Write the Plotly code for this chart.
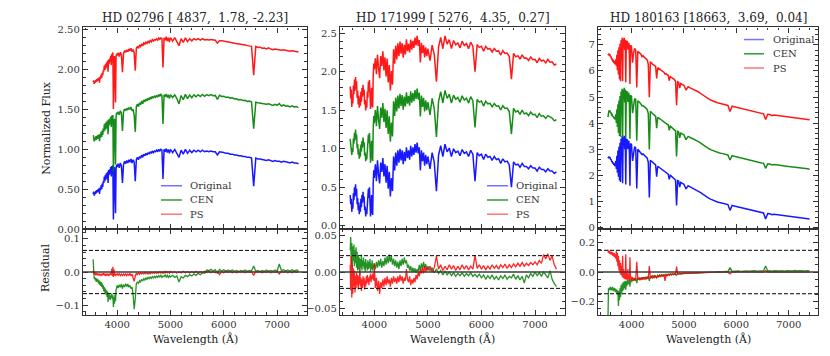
import plotly.graph_objects as go

# wavelength grid in Angstrom (denser in the line-rich blue part)
wave = list(range(3550, 4000, 10)) + list(range(4000, 5000, 20)) + list(range(5000, 7401, 40))

# ---------------- HD 02796 ----------------
flux_02796 = [
    0.44, 0.47, 0.42, 0.46, 0.44, 0.48, 0.45, 0.49, 0.46, 0.50,
    0.47, 0.51, 0.44, 0.52, 0.49, 0.55, 0.50, 0.57, 0.53, 0.60,
    0.58, 0.66, 0.60, 0.68, 0.62, 0.70, 0.64, 0.72, 0.58, 0.74,
    0.68, 0.75, 0.70, 0.78, 0.66, 0.79, 0.74, 0.80, 0.12, 0.62,
    0.78, 0.48, 0.20, 0.76, 0.81,
    0.78, 0.82, 0.77, 0.83, 0.79, 0.58, 0.81, 0.85, 0.82, 0.86,
    0.83, 0.87, 0.84, 0.88, 0.83, 0.87, 0.84, 0.60, 0.87, 0.90,
    0.87, 0.91, 0.89, 0.93, 0.90, 0.94, 0.92, 0.95, 0.93, 0.96,
    0.94, 0.97, 0.95, 0.98, 0.96, 0.98, 0.97, 0.99, 0.97, 1.00,
    0.98, 1.00, 0.99, 0.63, 1.00, 0.97, 1.01, 0.96, 1.00, 0.95,
    1.00, 0.96, 1.00, 0.95, 0.90, 0.99, 0.94, 1.00, 0.95, 0.99,
    0.96, 0.99, 0.97, 0.99, 0.97, 0.99, 0.97, 0.98, 0.97, 0.98,
    0.97, 0.97, 0.93, 0.97, 0.96, 0.96, 0.95, 0.95, 0.94, 0.94,
    0.93, 0.93, 0.92, 0.92, 0.91, 0.91, 0.90, 0.90, 0.89, 0.54,
    0.89, 0.88, 0.88, 0.87, 0.87, 0.86, 0.87, 0.86, 0.85, 0.86,
    0.85, 0.85, 0.84, 0.85, 0.84, 0.84, 0.83, 0.84, 0.83, 0.83,
    0.82,
]
cen_02796 = [
    0.038, -0.012, -0.020, -0.015, -0.025, -0.018, -0.030, -0.020, -0.028, -0.022,
    -0.035, -0.025, -0.038, -0.028, -0.042, -0.030, -0.045, -0.035, -0.050, -0.040,
    -0.058, -0.045, -0.062, -0.050, -0.068, -0.055, -0.075, -0.058, -0.090, -0.065,
    -0.080, -0.068, -0.085, -0.070, -0.078, -0.065, -0.082, -0.070, -0.105, -0.075,
    -0.095, -0.068, -0.088, -0.055, -0.048,
    -0.040, -0.048, -0.038, -0.046, -0.036, -0.050, -0.038, -0.045, -0.035, -0.044,
    -0.036, -0.046, -0.040, -0.050, -0.045, -0.070, -0.112, -0.080, -0.035, -0.030,
    -0.034, -0.026, -0.030, -0.022, -0.027, -0.020, -0.024, -0.018, -0.022, -0.016,
    -0.020, -0.015, -0.019, -0.014, -0.018, -0.013, -0.017, -0.012, -0.016, -0.011,
    -0.015, -0.010, -0.016, -0.012, -0.014, -0.009, -0.015, -0.010, -0.016, -0.011,
    -0.015, -0.010, -0.016, -0.012, -0.030, -0.014, -0.018, -0.010, -0.014, -0.008,
    -0.012, -0.006, -0.010, -0.004, -0.008, -0.002, -0.004, 0.006, 0.004, 0.008,
    0.003, 0.007, -0.004, 0.008, 0.003, 0.007, 0.002, 0.006, 0.003, 0.006,
    0.002, 0.005, 0.001, 0.005, 0.002, 0.006, 0.002, 0.005, 0.003, 0.018,
    0.002, 0.005, 0.001, 0.005, 0.002, 0.006, 0.002, 0.005, 0.002, 0.006,
    0.003, 0.024, 0.004, 0.007, 0.002, 0.006, 0.002, 0.007, 0.003, 0.006,
    0.004,
]
ps_02796 = [
    0.004, -0.006, 0.002, -0.008, -0.002, -0.010, -0.003, -0.009, -0.004, -0.010,
    -0.005, -0.011, -0.004, -0.010, -0.006, -0.012, -0.005, -0.010, -0.004, -0.009,
    -0.003, -0.010, -0.005, -0.012, -0.006, -0.011, -0.004, -0.010, -0.006, -0.012,
    -0.005, -0.010, -0.004, -0.008, -0.003, 0.010, -0.012, 0.016, -0.015, 0.008,
    -0.010, -0.004, -0.012, -0.006, -0.009,
    -0.004, -0.010, -0.005, -0.011, -0.006, -0.012, -0.006, -0.010, -0.005, -0.011,
    -0.006, -0.010, -0.004, -0.012, -0.006, -0.018, -0.028, -0.012, -0.004, -0.008,
    -0.003, -0.007, -0.002, -0.006, -0.002, -0.006, -0.001, -0.005, -0.002, -0.006,
    -0.002, -0.005, -0.001, -0.004, -0.001, -0.004, 0.000, -0.004, -0.001, -0.003,
    0.001, -0.003, 0.000, -0.004, 0.001, -0.003, 0.002, -0.002, 0.001, -0.003,
    0.002, -0.002, 0.001, -0.003, 0.000, -0.002, 0.002, -0.002, 0.001, -0.003,
    0.001, -0.002, 0.002, -0.002, 0.001, -0.002, 0.002, -0.001, 0.002, -0.002,
    0.001, -0.002, 0.002, -0.008, 0.001, -0.002, 0.002, -0.001, 0.002, -0.002,
    0.001, -0.002, 0.002, -0.001, 0.002, -0.002, 0.001, -0.001, 0.002, -0.010,
    0.002, -0.001, 0.002, -0.002, 0.001, -0.001, 0.002, -0.002, 0.001, -0.001,
    0.002, -0.006, 0.002, -0.001, 0.002, -0.002, 0.001, -0.002, 0.002, -0.001,
    0.001,
]

# ---------------- HD 171999 ----------------
flux_171999 = [
    0.40, 0.28, 0.35, 0.18, 0.30, 0.22, 0.42, 0.33, 0.50, 0.38,
    0.54, 0.40, 0.48, 0.28, 0.36, 0.20, 0.30, 0.15, 0.26, 0.18,
    0.35, 0.24, 0.40, 0.30, 0.44, 0.32, 0.38, 0.20, 0.25, 0.12,
    0.22, 0.15, 0.35, 0.28, 0.48, 0.36, 0.50, 0.30, 0.12, 0.25,
    0.40, 0.18, 0.14, 0.55, 0.72,
    0.62, 0.80, 0.58, 0.85, 0.66, 0.55, 0.82, 0.70, 0.88, 0.64,
    0.80, 0.56, 0.78, 0.48, 0.70, 0.38, 0.62, 0.45, 0.90, 0.72,
    0.95, 0.78, 0.98, 0.82, 1.00, 0.85, 0.98, 0.80, 0.96, 0.84,
    1.02, 0.88, 0.98, 0.86, 1.04, 0.90, 1.02, 0.92, 1.06, 0.95,
    1.08, 0.94, 1.02, 0.72, 0.98, 0.84, 0.95, 0.78, 0.92, 0.80,
    0.90, 0.74, 0.95, 0.82, 0.45, 0.92, 1.04, 0.90, 1.06, 0.96,
    1.01, 0.90, 1.00, 0.95, 0.97, 0.91, 0.99, 0.94, 0.96, 0.90,
    0.98, 0.93, 0.58, 0.95, 0.91, 0.93, 0.86, 0.93, 0.89, 0.90,
    0.85, 0.90, 0.86, 0.87, 0.81, 0.87, 0.83, 0.84, 0.79, 0.50,
    0.83, 0.79, 0.80, 0.76, 0.81, 0.77, 0.77, 0.74, 0.78, 0.75,
    0.75, 0.71, 0.76, 0.73, 0.73, 0.70, 0.74, 0.71, 0.71, 0.68,
    0.70,
]
cen_171999 = [
    0.030, 0.048, 0.010, 0.040, 0.005, 0.035, 0.015, 0.038, 0.008, 0.030,
    0.012, 0.034, 0.006, 0.028, 0.002, 0.022, 0.004, 0.020, -0.004, 0.018,
    0.006, 0.024, 0.002, 0.016, 0.008, 0.020, 0.004, 0.014, 0.000, 0.018,
    0.006, 0.012, 0.002, 0.016, 0.004, 0.014, 0.006, 0.018, 0.000, 0.012,
    0.004, 0.016, 0.002, 0.010, 0.006,
    0.012, 0.004, 0.014, 0.006, 0.016, 0.008, 0.018, 0.006, 0.015, 0.008,
    0.020, 0.010, 0.022, 0.012, 0.024, 0.014, 0.022, 0.010, 0.018, 0.008,
    0.016, 0.006, 0.014, 0.004, 0.016, 0.008, 0.018, 0.010, 0.020, 0.012,
    0.016, 0.006, 0.010, 0.002, 0.008, 0.000, 0.006, 0.000, 0.005, -0.001,
    0.004, 0.001, 0.010, 0.002, 0.012, 0.004, 0.014, 0.005, 0.011, 0.003,
    0.008, 0.002, 0.006, -0.001, 0.004, -0.002, 0.002, -0.004, 0.001, -0.004,
    0.000, -0.005, -0.001, -0.006, -0.002, -0.005, -0.001, -0.006, -0.002, -0.005,
    -0.001, -0.006, -0.003, -0.007, -0.003, -0.008, -0.004, -0.010, -0.005, -0.009,
    -0.004, -0.010, -0.006, -0.011, -0.005, -0.009, -0.004, -0.010, -0.006, -0.008,
    -0.003, -0.010, -0.005, -0.011, -0.006, -0.015, -0.004, -0.008, -0.002, -0.006,
    0.000, -0.005, -0.001, -0.006, 0.000, -0.004, -0.008, 0.002, -0.010, -0.016,
    -0.020,
]
ps_171999 = [
    0.010, -0.025, 0.022, -0.035, 0.010, -0.030, 0.005, -0.020, 0.002, -0.028,
    -0.005, -0.022, 0.000, -0.018, -0.004, -0.024, -0.006, -0.016, 0.002, -0.020,
    -0.008, -0.026, -0.010, -0.022, -0.006, -0.018, -0.008, -0.024, -0.012, -0.020,
    -0.006, -0.016, -0.004, -0.014, -0.008, -0.018, -0.006, -0.012, -0.002, -0.014,
    -0.005, -0.010, -0.002, -0.008, -0.012,
    0.012, -0.022, -0.008, -0.026, -0.012, -0.030, -0.014, -0.022, -0.010, -0.020,
    -0.008, -0.018, -0.006, -0.016, -0.010, -0.020, -0.008, -0.016, -0.006, -0.014,
    -0.008, -0.016, -0.006, -0.014, -0.004, -0.012, -0.006, -0.016, -0.008, -0.012,
    0.004, -0.010, -0.014, -0.006, -0.018, -0.010, -0.016, -0.008, -0.014, -0.004,
    -0.010, 0.000, -0.006, 0.004, -0.002, 0.006, -0.002, 0.008, 0.000, 0.006,
    0.002, 0.008, 0.000, 0.006, 0.022, 0.004, 0.010, 0.002, 0.008, 0.003,
    0.010, 0.004, 0.009, 0.002, 0.008, 0.003, 0.010, 0.004, 0.009, 0.003,
    0.008, 0.004, 0.023, 0.005, 0.010, 0.004, 0.009, 0.003, 0.008, 0.004,
    0.010, 0.005, 0.009, 0.004, 0.010, 0.006, 0.011, 0.005, 0.010, 0.006,
    0.011, 0.007, 0.012, 0.008, 0.013, 0.008, 0.012, 0.009, 0.013, 0.010,
    0.014, 0.010, 0.016, 0.012, 0.024, 0.018, 0.025, 0.016, 0.022, 0.010,
    0.004,
]

# ---------------- HD 180163 ----------------
flux_180163 = [
    2.65, 2.70, 2.72, 2.66, 2.70, 2.60, 2.62, 2.52, 2.55, 2.45,
    2.50, 2.40, 2.46, 2.35, 2.42, 2.55, 2.25, 2.75, 2.10, 2.95,
    1.95, 3.10, 1.80, 3.25, 1.75, 3.40, 2.60, 3.50, 1.70, 3.45,
    3.30, 3.52, 3.00, 3.45, 1.65, 3.40, 3.35, 3.38, 3.00, 3.32,
    3.30, 2.80, 1.60, 3.22, 3.20,
    3.18, 2.55, 2.95, 3.10, 3.05, 1.50, 3.00, 2.95, 2.92, 2.88,
    2.80, 2.82, 2.78, 2.74, 2.70, 2.66, 2.50, 1.15, 2.58, 2.55,
    2.50, 2.47, 2.44, 2.40, 1.95, 2.35, 2.32, 2.29, 2.26, 2.23,
    2.20, 2.17, 2.14, 2.11, 2.08, 2.05, 1.85, 2.00, 1.97, 1.94,
    1.91, 1.88, 1.82, 0.85, 1.80, 1.78, 1.55, 1.73, 1.70, 1.68,
    1.66, 1.48, 1.60, 1.56, 1.52, 1.49, 1.45, 1.40, 1.34, 1.28,
    1.22, 1.17, 1.12, 1.08, 1.04, 1.01, 0.98, 0.96, 0.94, 0.92,
    0.90, 0.88, 0.66, 0.85, 0.83, 0.81, 0.79, 0.77, 0.75, 0.73,
    0.71, 0.69, 0.67, 0.65, 0.63, 0.61, 0.59, 0.57, 0.56, 0.33,
    0.54, 0.53, 0.49, 0.51, 0.50, 0.48, 0.47, 0.46, 0.45, 0.44,
    0.43, 0.42, 0.41, 0.40, 0.39, 0.38, 0.37, 0.36, 0.35, 0.34,
    0.33,
]
cen_180163 = [
    -0.320, -0.110, -0.125, -0.105, -0.120, -0.100, -0.125, -0.105, -0.120, -0.100,
    -0.130, -0.110, -0.125, -0.108, -0.135, -0.115, -0.140, -0.120, -0.150, -0.125,
    -0.230, -0.130, -0.190, -0.110, -0.170, -0.090, -0.150, -0.080, -0.130, -0.070,
    -0.120, -0.065, -0.110, -0.060, -0.120, -0.062, -0.095, -0.055, -0.085, -0.058,
    -0.080, -0.050, -0.100, -0.052, -0.070,
    -0.048, -0.062, -0.045, -0.058, -0.042, -0.075, -0.040, -0.052, -0.038, -0.050,
    -0.036, -0.048, -0.034, -0.045, -0.032, -0.044, -0.030, -0.060, -0.028, -0.040,
    -0.026, -0.036, -0.024, -0.034, -0.040, -0.022, -0.030, -0.020, -0.028, -0.018,
    -0.026, -0.017, -0.025, -0.015, -0.022, -0.014, -0.020, -0.013, -0.019, -0.012,
    -0.018, -0.011, -0.016, -0.022, -0.010, -0.014, -0.009, -0.013, -0.008, -0.012,
    -0.007, -0.011, -0.006, -0.009, -0.005, -0.008, -0.004, -0.006, -0.003, -0.005,
    -0.002, -0.004, -0.001, -0.003, 0.000, -0.002, 0.001, 0.000, 0.003, 0.002,
    0.004, 0.003, 0.030, 0.004, 0.006, 0.004, 0.007, 0.005, 0.007, 0.005,
    0.008, 0.006, 0.008, 0.006, 0.009, 0.006, 0.008, 0.006, 0.009, 0.040,
    0.007, 0.009, 0.006, 0.009, 0.007, 0.010, 0.007, 0.009, 0.006, 0.009,
    0.007, 0.010, 0.008, 0.011, 0.007, 0.010, 0.008, 0.011, 0.008, 0.010,
    0.008,
]
ps_180163 = [
    0.150, 0.130, 0.145, 0.125, 0.140, 0.120, 0.138, 0.118, 0.135, 0.110,
    0.130, 0.105, 0.128, 0.100, 0.120, 0.090, 0.140, 0.070, 0.130, 0.040,
    0.110, 0.010, 0.080, -0.010, 0.060, -0.020, 0.040, -0.030, 0.110, -0.040,
    0.020, -0.045, 0.000, -0.050, 0.120, -0.050, -0.010, -0.055, 0.020, -0.050,
    -0.020, -0.060, 0.100, -0.050, -0.030,
    -0.055, -0.035, -0.058, -0.040, -0.055, 0.070, -0.050, -0.038, -0.055, -0.040,
    -0.052, -0.036, -0.050, -0.038, -0.048, -0.035, -0.045, 0.040, -0.042, -0.030,
    -0.040, -0.028, -0.038, -0.026, -0.036, -0.025, -0.033, -0.022, -0.030, -0.020,
    -0.028, -0.018, -0.060, -0.018, -0.025, -0.016, -0.022, -0.014, -0.020, -0.013,
    -0.018, -0.012, -0.016, 0.036, -0.012, -0.015, -0.010, -0.013, -0.009, -0.012,
    -0.008, -0.010, -0.007, -0.009, -0.006, -0.008, -0.005, -0.007, -0.004, -0.005,
    -0.003, -0.004, -0.002, -0.003, -0.001, -0.002, 0.000, -0.001, 0.001, -0.001,
    0.001, -0.001, -0.012, 0.001, 0.000, 0.001, -0.001, 0.001, 0.000, 0.002,
    -0.001, 0.001, 0.000, 0.002, -0.001, 0.001, 0.000, 0.001, -0.001, 0.010,
    0.000, 0.001, -0.001, 0.001, 0.000, 0.001, -0.001, 0.001, 0.000, 0.001,
    -0.001, 0.001, 0.000, 0.001, -0.001, 0.001, 0.000, 0.001, -0.001, 0.001,
    0.000,
]

star_names = ["HD 02796", "HD 171999", "HD 180163"]
star_params = ["[ 4837,  1.78, -2.23]", "[ 5276,  4.35,  0.27]", "[18663,  3.69,  0.04]"]
res_limits = [0.065, 0.0225, 0.147]   # dashed residual levels
series_names = ["Original", "CEN", "PS"]

spectra = [
    (flux_02796, cen_02796, ps_02796),
    (flux_171999, cen_171999, ps_171999),
    (flux_180163, cen_180163, ps_180163),
]
for s in spectra:
    for arr in s:
        assert len(arr) == len(wave), (len(arr), len(wave))

# ---------------- layout settings ----------------
W, H = 830, 356
TOP, MID, BOT = 25, 232, 320
panel_px = [(83, 307), (340, 565), (598, 818)]
offsets = [0.7, 0.7, 1.9]
main_axes = [
    dict(range=[0, 2.53], dtick=0.5, tickformat=".2f", minor=0.1),
    dict(range=[-0.045, 2.58], dtick=0.5, tickformat=".1f", minor=0.1),
    dict(range=[-0.06, 7.67], dtick=1, tickformat="d", minor=0.2),
]
res_axes = [
    dict(range=[-0.129, 0.129], dtick=0.1, tickformat=".1f", minor=0.02),
    dict(range=[-0.059, 0.059], dtick=0.05, tickformat=".2f", minor=0.01),
    dict(range=[-0.29, 0.29], dtick=0.2, tickformat=".1f", minor=0.05),
]
# legend: (line x0, line x1, text x, first row y) in pixels
legend_px = [(161, 182, 188, 187.5), (487, 508, 514, 187.5), (744, 764, 771, 37.5)]
LEG_STEP = 14.6

leg_colors = ["rgba(0,0,255,0.55)", "rgba(0,128,0,0.8)", "rgba(255,0,0,0.55)"]
FONT = "DejaVu Serif"
INK = "#333333"


def px_x(px):
    return px / W


def px_y(py):
    return 1 - py / H


def axis_style(minor):
    return dict(
        showline=True, linecolor=INK, linewidth=1.3, mirror="allticks",
        ticks="inside", ticklen=5, tickwidth=1, tickcolor=INK,
        showgrid=False, zeroline=False,
        tickfont=dict(family=FONT, size=10, color=INK),
        minor=dict(ticks="inside", ticklen=2.5, tickwidth=0.8, tickcolor=INK,
                   dtick=minor, showgrid=False),
    )


fig = go.Figure()
layout = {}
shapes = []
annotations = []

for i in range(3):
    flux, cen, ps = spectra[i]
    off = offsets[i]
    m, r = i + 1, i + 4
    xm, ym, xr, yr = f"x{m}", f"y{m}", f"x{r}", f"y{r}"

    # spectra, shifted upward for clarity
    fig.add_trace(go.Scatter(x=wave, y=flux, xaxis=xm, yaxis=ym, mode="lines",
                             line=dict(color="blue", width=1.5), opacity=0.9,
                             showlegend=False, hoverinfo="skip"))
    fig.add_trace(go.Scatter(x=wave, y=[f + c + off for f, c in zip(flux, cen)],
                             xaxis=xm, yaxis=ym, mode="lines",
                             line=dict(color="green", width=1.5), opacity=0.9,
                             showlegend=False, hoverinfo="skip"))
    fig.add_trace(go.Scatter(x=wave, y=[f + p + 2 * off for f, p in zip(flux, ps)],
                             xaxis=xm, yaxis=ym, mode="lines",
                             line=dict(color="red", width=1.5), opacity=0.9,
                             showlegend=False, hoverinfo="skip"))
    # residuals
    fig.add_trace(go.Scatter(x=wave, y=cen, xaxis=xr, yaxis=yr, mode="lines",
                             line=dict(color="green", width=1.3), opacity=0.85,
                             showlegend=False, hoverinfo="skip"))
    fig.add_trace(go.Scatter(x=wave, y=ps, xaxis=xr, yaxis=yr, mode="lines",
                             line=dict(color="red", width=1.3), opacity=0.85,
                             showlegend=False, hoverinfo="skip"))

    x0, x1 = panel_px[i]
    dom_x = [px_x(x0), px_x(x1)]
    ma, ra = main_axes[i], res_axes[i]

    xm_ax = axis_style(200)
    xm_ax.update(domain=dom_x, anchor=ym, matches=xr, showticklabels=False,
                 range=[3360, 7560], dtick=1000, tick0=0)
    xr_ax = axis_style(200)
    xr_ax.update(domain=dom_x, anchor=yr, range=[3360, 7560], dtick=1000, tick0=0)
    ym_ax = axis_style(ma["minor"])
    ym_ax.update(domain=[px_y(MID), px_y(TOP)], anchor=xm, range=ma["range"],
                 dtick=ma["dtick"], tick0=0, tickformat=ma["tickformat"])
    yr_ax = axis_style(ra["minor"])
    yr_ax.update(domain=[px_y(BOT), px_y(MID)], anchor=xr, range=ra["range"],
                 dtick=ra["dtick"], tick0=0, tickformat=ra["tickformat"])

    layout["xaxis" if m == 1 else f"xaxis{m}"] = xm_ax
    layout[f"xaxis{r}"] = xr_ax
    layout["yaxis" if m == 1 else f"yaxis{m}"] = ym_ax
    layout[f"yaxis{r}"] = yr_ax

    # zero line and residual levels
    shapes.append(dict(type="line", xref=f"{xr} domain", yref=yr, x0=0, x1=1, y0=0, y1=0,
                       line=dict(color="rgba(60,60,60,0.75)", width=2)))
    for lev in (res_limits[i], -res_limits[i]):
        shapes.append(dict(type="line", xref=f"{xr} domain", yref=yr, x0=0, x1=1,
                           y0=lev, y1=lev, line=dict(color="black", width=1, dash="4px,2px")))

    # title
    title = f"{star_names[i]} {star_params[i]}".replace("  ", "\u00a0\u00a0").replace("[ ", "[\u00a0")
    annotations.append(dict(text=title, x=px_x((x0 + x1) / 2), y=px_y(15), xref="paper",
                            yref="paper", showarrow=False, xanchor="center", yanchor="middle",
                            font=dict(family=FONT, size=12, color="#222")))
    annotations.append(dict(text="Wavelength (Å)", x=px_x((x0 + x1) / 2), y=px_y(345),
                            xref="paper", yref="paper", showarrow=False, xanchor="center",
                            yanchor="middle", font=dict(family=FONT, size=11, color="#222")))

    # legend
    lx0, lx1, tx, ly = legend_px[i]
    for k in range(3):
        yy = ly + k * LEG_STEP
        shapes.append(dict(type="line", xref="paper", yref="paper", x0=px_x(lx0), x1=px_x(lx1),
                           y0=px_y(yy), y1=px_y(yy), line=dict(color=leg_colors[k], width=1.5)))
        annotations.append(dict(text=series_names[k], x=px_x(tx), y=px_y(yy), xref="paper",
                                yref="paper", showarrow=False, xanchor="left", yanchor="middle",
                                font=dict(family=FONT, size=10, color=INK)))

annotations.append(dict(text="Normalized Flux", x=px_x(47), y=px_y(128), xref="paper",
                        yref="paper", showarrow=False, textangle=-90, xanchor="center",
                        yanchor="middle", font=dict(family=FONT, size=11, color="#222")))
annotations.append(dict(text="Residual", x=px_x(45), y=px_y(272), xref="paper",
                        yref="paper", showarrow=False, textangle=-90, xanchor="center",
                        yanchor="middle", font=dict(family=FONT, size=11, color="#222")))

fig.update_layout(
    width=W, height=H, autosize=False,
    margin=dict(l=0, r=0, t=0, b=0),
    paper_bgcolor="white", plot_bgcolor="white",
    showlegend=False,
    shapes=shapes, annotations=annotations,
    **layout,
)

# page margin off so the 830x356 figure fills the window
fig.write_html("out.html", config={"displayModeBar": False},
               post_script="document.body.style.margin='0';")
